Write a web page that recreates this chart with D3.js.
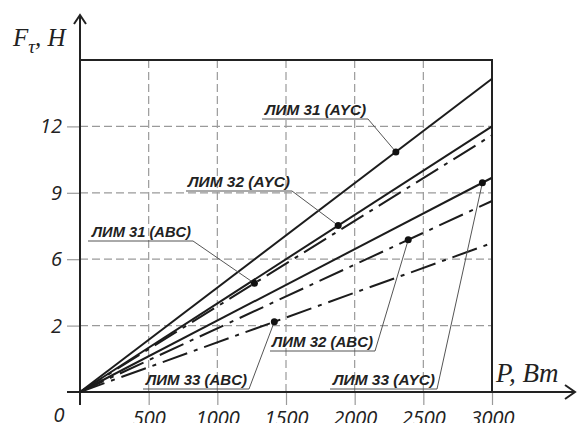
<!DOCTYPE html>
<html>
<head>
<meta charset="utf-8">
<script src="https://cdn.jsdelivr.net/npm/d3@7"></script>
<style>
  body { margin: 0; background: #fff; }
  svg { display: block; }
</style>
</head>
<body>
<div id="chart"></div>
<script>
// data
var pDomain = [0, 3000];
var fDomain = [0, 15];
var xTicks = [500, 1000, 1500, 2000, 2500, 3000];
var xTickLabels = ["500", "1000", "1500", "2000", "2500", "3000"];
var yTicks = [3, 6, 9, 12];
var yTickLabels = ["2", "6", "9", "12"];

var seriesNames = ["ЛИМ 31 (AYC)", "ЛИМ 32 (AYC)", "ЛИМ 33 (AYC)",
                   "ЛИМ 31 (ABC)", "ЛИМ 32 (ABC)", "ЛИМ 33 (ABC)"];
var seriesP = [0, 3000];
var seriesF = [
  [0, 14.15],
  [0, 12.0],
  [0, 9.68],
  [0, 11.6],
  [0, 8.63],
  [0, 6.73]
];
var seriesDashed = [false, false, false, true, true, true];
var markerP = [2300, 1880, 2930, 1270, 2390, 1415];

// label placement (pixels): text left x, baseline y, underline start/end x
var labelLayout = [
  { x: 265, y: 115, x0: 262, x1: 368 },
  { x: 188, y: 187, x0: 186, x1: 292 },
  { x: 333, y: 385, x0: 330, x1: 437 },
  { x: 92, y: 237, x0: 88, x1: 193 },
  { x: 272, y: 347, x0: 270, x1: 375 },
  { x: 146, y: 385, x0: 143, x1: 249 }
];

var svgWidth = 582;
var svgHeight = 423;

var svg = d3.select("#chart")
  .append("svg")
  .attr("width", svgWidth)
  .attr("height", svgHeight);

var xScale = d3.scaleLinear().domain(pDomain).range([80, 492]);
var yScale = d3.scaleLinear().domain(fDomain).range([392, 60]);

var ink = "#222";
var gridColor = "#9a9a9a";

// grid lines
svg.append("g")
  .selectAll("line")
  .data(xTicks.slice(0, -1))
  .enter()
  .append("line")
  .attr("x1", d => xScale(d))
  .attr("x2", d => xScale(d))
  .attr("y1", yScale(15))
  .attr("y2", yScale(0))
  .attr("stroke", gridColor)
  .attr("stroke-width", 1.2)
  .attr("stroke-dasharray", "8,4");

svg.append("g")
  .selectAll("line")
  .data(yTicks)
  .enter()
  .append("line")
  .attr("x1", xScale(0))
  .attr("x2", xScale(3000))
  .attr("y1", d => yScale(d))
  .attr("y2", d => yScale(d))
  .attr("stroke", gridColor)
  .attr("stroke-width", 1.2)
  .attr("stroke-dasharray", "8,4");

// axes (ticks + labels)
var xAxis = d3.axisBottom(xScale)
  .tickValues(xTicks)
  .tickSize(13)
  .tickPadding(6)
  .tickFormat((d, i) => xTickLabels[i]);

var yAxis = d3.axisLeft(yScale)
  .tickValues(yTicks)
  .tickSize(13)
  .tickPadding(5)
  .tickFormat((d, i) => yTickLabels[i]);

var gx = svg.append("g")
  .attr("transform", `translate(0, ${yScale(0)})`)
  .call(xAxis);

var gy = svg.append("g")
  .attr("transform", `translate(${xScale(0)}, 0)`)
  .call(yAxis);

[gx, gy].forEach(function(g) {
  g.select(".domain").remove();
  g.selectAll(".tick line").attr("stroke", gridColor).attr("stroke-width", 1.2);
  g.selectAll("text")
    .attr("fill", ink)
    .style("font-family", "'Open Sans', sans-serif")
    .style("font-style", "italic")
    .style("font-size", "20px");
});

svg.append("text")
  .attr("x", 59)
  .attr("y", 422)
  .attr("text-anchor", "middle")
  .attr("fill", ink)
  .style("font-family", "'Open Sans', sans-serif")
  .style("font-style", "italic")
  .style("font-size", "20px")
  .text("0");

// frame
svg.append("path")
  .attr("d", `M${xScale(0)},${yScale(15)}H${xScale(3000)}V${yScale(0)}`)
  .attr("fill", "none")
  .attr("stroke", ink)
  .attr("stroke-width", 2);

// axis lines with arrows
svg.append("line")
  .attr("x1", 67).attr("x2", 574)
  .attr("y1", yScale(0)).attr("y2", yScale(0))
  .attr("stroke", ink).attr("stroke-width", 2);
svg.append("path")
  .attr("d", `M565,${yScale(0) - 7}L575,${yScale(0)}L565,${yScale(0) + 7}`)
  .attr("fill", "none").attr("stroke", ink).attr("stroke-width", 2);

svg.append("line")
  .attr("x1", xScale(0)).attr("x2", xScale(0))
  .attr("y1", 405).attr("y2", 15)
  .attr("stroke", ink).attr("stroke-width", 2);
svg.append("path")
  .attr("d", `M${xScale(0) - 6},24L${xScale(0)},15L${xScale(0) + 6},24`)
  .attr("fill", "none").attr("stroke", ink).attr("stroke-width", 2);

// axis titles
var yTitle = svg.append("text")
  .attr("x", 13)
  .attr("y", 46)
  .attr("fill", ink)
  .style("font-family", "'Liberation Serif', serif")
  .style("font-style", "italic")
  .style("font-size", "25px");
yTitle.append("tspan").text("F");
yTitle.append("tspan").attr("dy", 7).style("font-size", "19px").text("τ");
yTitle.append("tspan").attr("dy", -7).text(", H");

svg.append("text")
  .attr("x", 496)
  .attr("y", 382)
  .attr("fill", ink)
  .style("font-family", "'Liberation Serif', serif")
  .style("font-style", "italic")
  .style("font-size", "27px")
  .text("P, Bm");

// series lines
var line = d3.line()
  .x((d, i) => xScale(seriesP[i]))
  .y(d => yScale(d));

svg.append("g")
  .selectAll("path")
  .data(seriesF)
  .enter()
  .append("path")
  .attr("d", line)
  .attr("fill", "none")
  .attr("stroke", "#1c1c1c")
  .attr("stroke-width", 2)
  .attr("stroke-dasharray", (d, i) => seriesDashed[i] ? "26,7,4,7" : null);

// markers, labels and leaders
var markers = seriesF.map(function(f, i) {
  var slope = f[1] / seriesP[1];
  return { px: xScale(markerP[i]), py: yScale(slope * markerP[i]) };
});

var labels = svg.append("g");
seriesNames.forEach(function(name, i) {
  var L = labelLayout[i];
  var m = markers[i];
  labels.append("path")
    .attr("d", `M${L.x0},${L.y + 4}H${L.x1}L${m.px},${m.py}`)
    .attr("fill", "none")
    .attr("stroke", "#555")
    .attr("stroke-width", 1);
  labels.append("text")
    .attr("x", L.x)
    .attr("y", L.y)
    .attr("fill", ink)
    .attr("textLength", L.x1 - L.x - 2)
    .attr("lengthAdjust", "spacingAndGlyphs")
    .style("font-family", "'Liberation Sans', Arial, sans-serif")
    .style("font-weight", "bold")
    .style("font-style", "italic")
    .style("font-size", "14px")
    .text(name);
});

svg.append("g")
  .selectAll("circle")
  .data(markers)
  .enter()
  .append("circle")
  .attr("cx", d => d.px)
  .attr("cy", d => d.py)
  .attr("r", 3.5)
  .attr("fill", "#111");
</script>
</body>
</html>
